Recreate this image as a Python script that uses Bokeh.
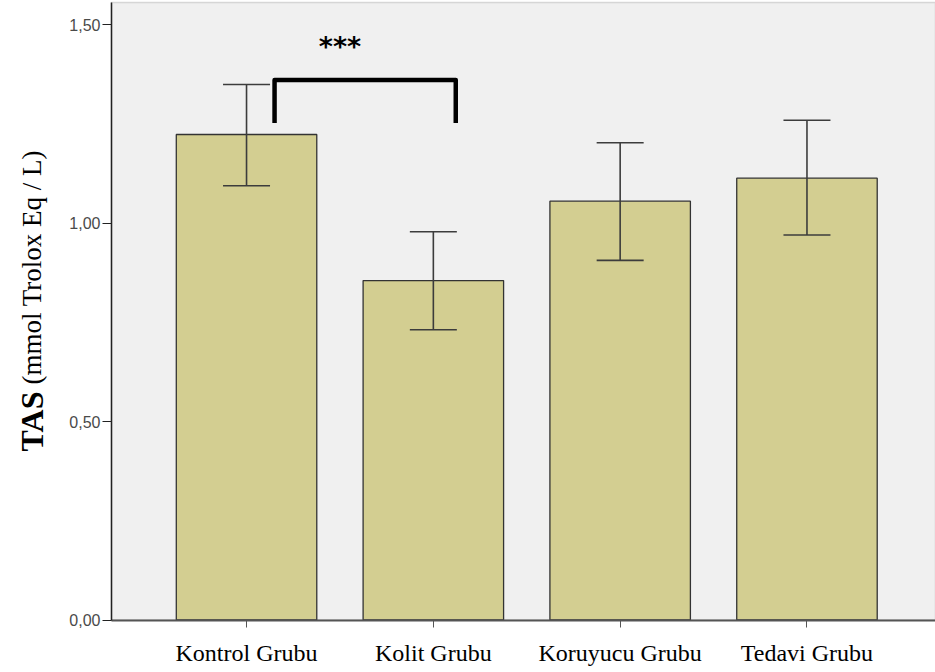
import math
from bokeh.plotting import figure
from bokeh.models import (ColumnDataSource, Whisker, TeeHead, FixedTicker, Label,
                          Range1d, BoxAnnotation)
from bokeh.core.properties import value
from bokeh.embed import file_html
from bokeh.resources import INLINE

# ---- data ----
categories = ["Kontrol Grubu", "Kolit Grubu", "Koruyucu Grubu", "Tedavi Grubu"]
means = [1.223, 0.855, 1.055, 1.113]
upper = [1.349, 0.978, 1.202, 1.259]
lower = [1.094, 0.731, 0.906, 0.970]
y_ticks = [0.0, 0.5, 1.0, 1.5]
y_tick_labels = ["0,00", "0,50", "1,00", "1,50"]
sig_groups = [1, 2]          # bracket between Kontrol and Kolit
sig_text = "***"
y_label_bold = "TAS"
y_label_rest = "(mmol Trolox Eq / L)"

xs = list(range(1, len(categories) + 1))

# canvas <-> data mapping (the frame covers the whole canvas; axes sit at fixed places)
W, H = 935, 672
X_MIN, X_MAX = -0.317, 4.688
Y_MIN, Y_MAX = -0.1322, 1.5605


def px_to_x(px):
    return X_MIN + px / W * (X_MAX - X_MIN)


def py_to_y(py):
    return Y_MAX - py / H * (Y_MAX - Y_MIN)


plot_left = px_to_x(111)
plot_top = py_to_y(2)

p = figure(width=W, height=H, output_backend="svg", toolbar_location=None,
           x_range=Range1d(X_MIN, X_MAX), y_range=Range1d(Y_MIN, Y_MAX),
           min_border=0)
p.background_fill_color = "white"
p.border_fill_color = "white"
p.outline_line_color = None
p.grid.visible = False

# plot area background + top border
p.add_layout(BoxAnnotation(left=plot_left, right=X_MAX, bottom=0, top=plot_top,
                           fill_color="#f0f0f0", fill_alpha=1,
                           line_color="#8a8a8a", line_width=1.5, level="underlay"))

src = ColumnDataSource(dict(x=xs, top=means, upper=upper, lower=lower))

p.vbar(x="x", top="top", width=0.752, source=src, fill_color="#d3ce91",
       line_color="#333333", line_width=1.3)

err_color = "#3c3c3c"
w = Whisker(base="x", upper="upper", lower="lower", source=src,
            line_color=err_color, line_width=1.6, level="overlay",
            upper_head=TeeHead(size=47, line_color=err_color, line_width=1.6),
            lower_head=TeeHead(size=47, line_color=err_color, line_width=1.6))
p.add_layout(w)

# significance bracket
g0, g1 = sig_groups
bx0 = xs[g0 - 1] + 0.15
bx1 = xs[g1 - 1] + 0.12
by_top = upper[g0 - 1] + 0.011
by_bot = means[g0 - 1] + 0.029
p.line(x=[bx0, bx0, bx1, bx1], y=[by_bot, by_top, by_top, by_bot],
       line_width=4.5, line_color="black", line_join="round")
p.text(x=[(bx0 + bx1) / 2 - 0.135], y=[by_top + 0.085], text=[sig_text],
       text_font=value("DejaVu Sans"), text_font_style="bold",
       text_font_size="27px", text_align="center", text_baseline="alphabetic",
       text_color="black")

# x axis (at y = 0)
p.xaxis.fixed_location = 0
p.xaxis.bounds = (plot_left, X_MAX)
p.xaxis.ticker = FixedTicker(ticks=xs)
p.xaxis.major_label_overrides = {x: c for x, c in zip(xs, categories)}
p.xaxis.major_label_text_font = "Liberation Serif"
p.xaxis.major_label_text_font_size = "24px"
p.xaxis.major_label_text_color = "black"
p.xaxis.major_label_standoff = 13
p.xaxis.axis_line_color = "#555555"
p.xaxis.axis_line_width = 2
p.xaxis.major_tick_line_color = "#555555"
p.xaxis.major_tick_out = 7
p.xaxis.major_tick_in = 0
p.xaxis.minor_tick_line_color = None

# y axis (at the left edge of the plot area)
p.yaxis.fixed_location = plot_left
p.yaxis.bounds = (0, plot_top)
p.yaxis.ticker = FixedTicker(ticks=y_ticks)
p.yaxis.major_label_overrides = {t: l for t, l in zip(y_ticks, y_tick_labels)}
p.yaxis.major_label_text_font = "Liberation Sans"
p.yaxis.major_label_text_font_size = "16px"
p.yaxis.major_label_text_color = "#4a4a4a"
p.yaxis.major_label_standoff = 2
p.yaxis.axis_line_color = "#222222"
p.yaxis.axis_line_width = 1.5
p.yaxis.major_tick_line_color = "#222222"
p.yaxis.major_tick_out = 9
p.yaxis.major_tick_in = 0
p.yaxis.minor_tick_line_color = None

# y axis title: bold "TAS" + regular unit text, read bottom to top
p.add_layout(Label(x=px_to_x(31), y=py_to_y(391),
                   text=y_label_bold, angle=math.pi / 2, text_align="right",
                   text_baseline="alphabetic", text_font="Liberation Serif",
                   text_font_style="bold", text_font_size="32px",
                   text_color="black"))
p.add_layout(Label(x=px_to_x(31), y=py_to_y(384),
                   text=y_label_rest, angle=math.pi / 2, text_align="left",
                   text_baseline="alphabetic", text_font="Liberation Serif",
                   text_font_size="27px", text_color="black"))

open("out.html", "w").write(file_html(p, INLINE))
